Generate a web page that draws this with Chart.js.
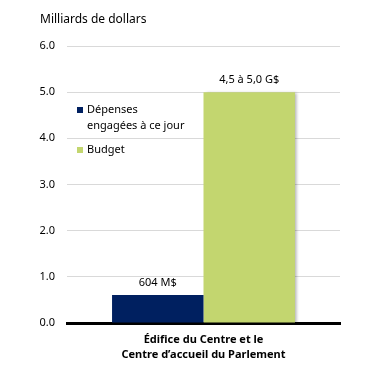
<!DOCTYPE html>
<html>
<head>
<meta charset="utf-8">
<script src="https://cdn.jsdelivr.net/npm/chart.js@4"></script>
<style>
  body { margin: 0; background: #fff; }
  #wrap { width: 374px; height: 381px; }
</style>
</head>
<body>
<div id="wrap"><canvas id="myChart"></canvas></div>
<script>
const categories = [["Édifice du Centre et le", "Centre d\u2019accueil du Parlement"]];
const spentValues = [0.604];
const budgetValues = [5.0];
const seriesNames = ["Dépenses engagées à ce jour", "Budget"];
const barLabels = [["604 M$"], ["4,5 à 5,0 G$"]];
const yTicks = [0, 1, 2, 3, 4, 5, 6];

const FONT = "'Noto Sans', sans-serif";
const navy = "#002060";
const green = "#c3d66f";

// petite ombre sur la barre du budget
const shadow = {
    id: "shadow",
    beforeDatasetDraw(chart, args) {
        if (args.index !== 1) return;
        const ctx = chart.ctx;
        ctx.save();
        ctx.shadowColor = "rgba(0,0,0,0.3)";
        ctx.shadowBlur = 3;
        ctx.shadowOffsetX = 2;
        ctx.shadowOffsetY = 1;
    },
    afterDatasetDraw(chart, args) {
        if (args.index !== 1) return;
        chart.ctx.restore();
    }
};

// titre, étiquettes et légende dessinés à la main
const extras = {
    id: "extras",
    afterDatasetsDraw(chart) {
        const ctx = chart.ctx;
        const area = chart.chartArea;
        ctx.save();
        ctx.fillStyle = "#000";
        ctx.textBaseline = "middle";
        ctx.textAlign = "left";
        ctx.font = "12px " + FONT;
        ctx.fillText("Milliards de dollars", 40, 20);

        ctx.font = "11px " + FONT;
        // valeurs au-dessus des barres
        ctx.textAlign = "center";
        chart.data.datasets.forEach((ds, i) => {
            const bar = chart.getDatasetMeta(i).data[0];
            ctx.fillText(barLabels[i][0], bar.x, bar.y - 12);
        });

        // légende
        ctx.textAlign = "left";
        ctx.fillStyle = navy;
        ctx.fillRect(area.left + 10, 107, 6, 6);
        ctx.fillStyle = "#000";
        ctx.fillText("Dépenses", area.left + 20, 110);
        ctx.fillText("engagées à ce jour", area.left + 20, 126);
        ctx.fillStyle = green;
        ctx.fillRect(area.left + 10, 147, 6, 6);
        ctx.fillStyle = "#000";
        ctx.fillText("Budget", area.left + 20, 150);
        ctx.restore();
    }
};

new Chart(document.getElementById("myChart"), {
    type: "bar",
    data: {
        labels: categories,
        datasets: [
            { label: seriesNames[0], data: spentValues, backgroundColor: navy },
            { label: seriesNames[1], data: budgetValues, backgroundColor: green }
        ]
    },
    options: {
        responsive: true,
        maintainAspectRatio: false,
        animation: false,
        layout: { padding: { top: 46, right: 34, left: 0, bottom: 0 } },
        datasets: { bar: { categoryPercentage: 0.67, barPercentage: 1.0 } },
        plugins: { legend: { display: false }, tooltip: { enabled: false } },
        scales: {
            x: {
                grid: { display: false },
                border: { color: "#000", width: 3 },
                ticks: {
                    color: "#000",
                    padding: 2,
                    font: { family: FONT, size: 11, weight: "bold", lineHeight: 1.3 }
                },
                afterFit(scale) { scale.height = 58; }
            },
            y: {
                min: 0,
                max: 6,
                afterBuildTicks(scale) { scale.ticks = yTicks.map(v => ({ value: v })); },
                grid: { color: "#d9d9d9", drawTicks: false },
                border: { display: false },
                ticks: {
                    color: "#000",
                    padding: 12,
                    font: { family: FONT, size: 11 },
                    callback: v => v.toFixed(1)
                },
                afterFit(scale) { scale.width = 67; }
            }
        }
    },
    plugins: [shadow, extras]
});
</script>
</body>
</html>
